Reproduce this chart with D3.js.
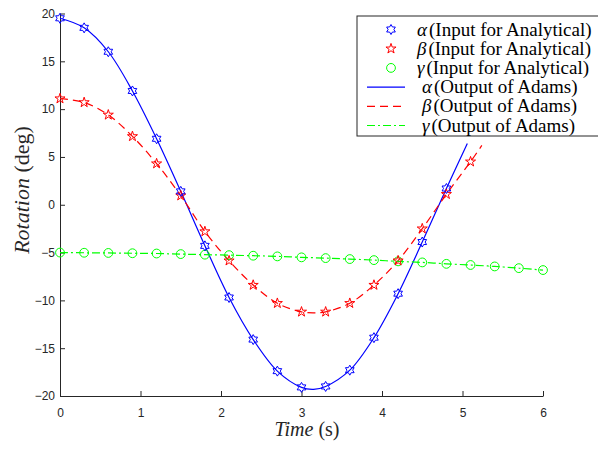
<!DOCTYPE html>
<html lang="en">
<head>
    <meta charset="UTF-8">
    <script src="https://cdnjs.cloudflare.com/ajax/libs/d3/7.8.5/d3.min.js"></script>
    <title>Rotation over time</title>
    <style>
        body { margin: 0; background: #fff; }
        svg { display: block; }
        .tick text { font-family: "Liberation Sans", Arial, sans-serif; font-size: 12px; fill: #262626; }
        .serif { font-family: "Liberation Serif", "DejaVu Serif", serif; }
    </style>
</head>
<body>
    <svg width="598" height="456"></svg>
    <script>
        // marker times (s)
        const times = [0, 0.3, 0.6, 0.9, 1.2, 1.5, 1.8, 2.1, 2.4, 2.7, 3.0, 3.3, 3.6, 3.9, 4.2, 4.5, 4.8, 5.1, 5.4, 5.7, 6.0];

        // analytical inputs (deg)
        const alphaIn = [19.5, 18.5, 16.0, 11.9, 6.9, 1.4, -4.3, -9.7, -14.1, -17.4, -19.1, -19.0, -17.3, -13.9, -9.3, -3.9, 1.7];
        const betaIn = [11.1, 10.7, 9.4, 7.15, 4.3, 0.95, -2.8, -5.85, -8.4, -10.3, -11.2, -11.2, -10.3, -8.4, -5.85, -2.5, 1.1, 4.5];
        const gammaIn = [-5.0, -5.02, -5.04, -5.07, -5.1, -5.16, -5.22, -5.27, -5.33, -5.4, -5.5, -5.58, -5.68, -5.79, -5.92, -6.03, -6.18, -6.3, -6.45, -6.63, -6.83];

        // Adams output curves (t, deg); they stop below the legend
        const alphaOut = [[0, 19.5], [0.3, 18.5], [0.6, 16.0], [0.9, 11.9], [1.2, 6.9], [1.5, 1.4], [1.8, -4.3], [2.1, -9.7], [2.4, -14.1], [2.7, -17.4], [3.0, -19.1], [3.15, -19.3], [3.3, -19.0], [3.6, -17.3], [3.9, -13.9], [4.2, -9.3], [4.5, -3.9], [4.8, 1.7], [5.06, 6.4]];
        const betaOut = [[0, 11.1], [0.3, 10.7], [0.6, 9.4], [0.9, 7.15], [1.2, 4.3], [1.5, 0.95], [1.8, -2.8], [2.1, -5.85], [2.4, -8.4], [2.7, -10.3], [3.0, -11.2], [3.15, -11.3], [3.3, -11.2], [3.6, -10.3], [3.9, -8.4], [4.2, -5.85], [4.5, -2.5], [4.8, 1.1], [5.1, 4.5], [5.24, 6.2]];
        const gammaOut = times.map((t, i) => [t, gammaIn[i]]);

        const xTicks = [0, 1, 2, 3, 4, 5, 6];
        const yTicks = [-20, -15, -10, -5, 0, 5, 10, 15, 20];

        const legendRows = [
            { greek: 'α', label: '(Input for Analytical)', kind: 'hex', color: '#0000ff' },
            { greek: 'β', label: '(Input for Analytical)', kind: 'pent', color: '#ff0000' },
            { greek: 'γ', label: '(Input for Analytical)', kind: 'circle', color: '#00ff00' },
            { greek: 'α', label: '(Output of Adams)', kind: 'solid', color: '#0000ff' },
            { greek: 'β', label: '(Output of Adams)', kind: 'dash', color: '#ff0000' },
            { greek: 'γ', label: '(Output of Adams)', kind: 'dashdot', color: '#00ff00' }
        ];

        const axisColor = '#262626';
        const dashes = { solid: null, dash: '8,5', dashdot: '8,3,2,3' };

        const svg = d3.select('svg');

        const x = d3.scaleLinear().domain([0, 6]).range([60, 543]);
        const y = d3.scaleLinear().domain([-20, 20]).range([396, 13.5]);

        // star shaped marker outlines
        function starPath(points, rOut, rIn) {
            const p = d3.path();
            for (let k = 0; k < points * 2; k++) {
                const r = k % 2 ? rIn : rOut;
                const a = -Math.PI / 2 + k * Math.PI / points;
                const px = r * Math.cos(a), py = r * Math.sin(a);
                if (k === 0) p.moveTo(px, py); else p.lineTo(px, py);
            }
            p.closePath();
            return p.toString();
        }
        const hexPath = starPath(6, 5, 5 / Math.sqrt(3));
        const pentPath = starPath(5, 5.3, 5.3 * 0.382);

        function drawMarker(g, kind, color) {
            if (kind === 'circle') {
                g.append('circle').attr('r', 4.4).attr('fill', 'none').attr('stroke', color).attr('stroke-width', 1);
            } else {
                g.append('path').attr('d', kind === 'hex' ? hexPath : pentPath)
                    .attr('fill', 'none').attr('stroke', color).attr('stroke-width', 1);
            }
        }

        // axes
        const xAxis = d3.axisBottom(x).tickValues(xTicks).tickFormat(d3.format('d'))
            .tickSizeInner(-5).tickSizeOuter(0).tickPadding(12);
        const yAxis = d3.axisLeft(y).tickValues(yTicks).tickFormat(d3.format('d'))
            .tickSizeInner(-5).tickSizeOuter(0).tickPadding(5);

        const gx = svg.append('g').attr('transform', 'translate(0,396)').call(xAxis);
        const gy = svg.append('g').attr('transform', 'translate(60,0)').call(yAxis);
        [gx, gy].forEach(g => {
            g.select('.domain').attr('stroke', axisColor);
            g.selectAll('.tick line').attr('stroke', axisColor);
        });

        // curves
        const line = d3.line().x(d => x(d[0])).y(d => y(d[1])).curve(d3.curveCatmullRom);
        const curves = [
            { data: alphaOut, color: '#0000ff', kind: 'solid' },
            { data: betaOut, color: '#ff0000', kind: 'dash' },
            { data: gammaOut, color: '#00ff00', kind: 'dashdot' }
        ];
        curves.forEach(c => {
            svg.append('path').datum(c.data)
                .attr('d', line)
                .attr('fill', 'none')
                .attr('stroke', c.color)
                .attr('stroke-width', 1.2)
                .attr('stroke-dasharray', dashes[c.kind]);
        });

        // markers
        const markerSets = [
            { vals: gammaIn, kind: 'circle', color: '#00ff00' },
            { vals: betaIn, kind: 'pent', color: '#ff0000' },
            { vals: alphaIn, kind: 'hex', color: '#0000ff' }
        ];
        markerSets.forEach(s => {
            s.vals.forEach((v, i) => {
                const g = svg.append('g').attr('transform', `translate(${x(times[i])},${y(v)})`);
                drawMarker(g, s.kind, s.color);
            });
        });

        // axis labels
        svg.append('text')
            .attr('class', 'serif')
            .attr('transform', 'translate(29,190) rotate(-90)')
            .attr('text-anchor', 'middle')
            .attr('font-size', 22)
            .attr('fill', axisColor)
            .call(t => {
                t.append('tspan').attr('font-style', 'italic').text('Rotation');
                t.append('tspan').text(' (deg)');
            });

        svg.append('text')
            .attr('class', 'serif')
            .attr('x', 307).attr('y', 436)
            .attr('text-anchor', 'middle')
            .attr('font-size', 20)
            .attr('fill', axisColor)
            .call(t => {
                t.append('tspan').attr('font-style', 'italic').text('Time');
                t.append('tspan').text(' (s)');
            });

        // legend
        const legend = svg.append('g');
        legend.append('rect')
            .attr('x', 357).attr('y', 16).attr('width', 250).attr('height', 120)
            .attr('fill', '#fff').attr('stroke', axisColor).attr('stroke-width', 1);

        legendRows.forEach((r, i) => {
            const cy = 29.5 + i * 19.2;
            const isMarker = r.kind === 'hex' || r.kind === 'pent' || r.kind === 'circle';
            if (isMarker) {
                drawMarker(legend.append('g').attr('transform', `translate(391,${cy})`), r.kind, r.color);
            } else {
                legend.append('line')
                    .attr('x1', 367).attr('x2', 405).attr('y1', cy).attr('y2', cy)
                    .attr('stroke', r.color).attr('stroke-width', 1.2)
                    .attr('stroke-dasharray', dashes[r.kind]);
            }
            legend.append('text')
                .attr('class', 'serif')
                .attr('x', isMarker ? 417 : 422).attr('y', cy + 6)
                .attr('font-size', 19)
                .attr('fill', '#000')
                .call(t => {
                    t.append('tspan').attr('font-style', 'italic').text(r.greek);
                    t.append('tspan').attr('dx', 2).text(r.label);
                });
        });
    </script>
</body>
</html>
